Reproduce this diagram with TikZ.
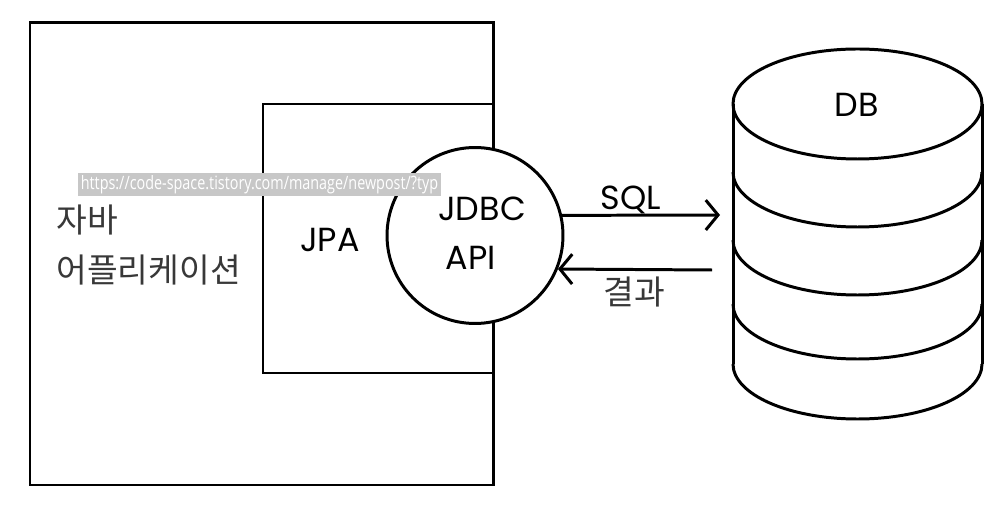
\documentclass[tikz,border=0pt]{standalone}
\usepackage{fontspec}
\setmainfont{Poppins}
\newfontfamily\krfont{Noto Sans CJK KR}
\newfontfamily\urlfont{Open Sans}
\usetikzlibrary{arrows.meta, positioning}

\begin{document}
\begin{tikzpicture}[x=0.02cm, y=0.02cm, line width=1.7pt,
    >={Straight Barb[length=7pt, width=17pt]},
    kor/.style={font=\krfont\fontsize{19}{23}\selectfont, text=black!78, inner sep=0pt},
    eng/.style={font=\fontsize{19}{23}\selectfont, inner sep=0pt}]
    \useasboundingbox (0,0) rectangle (1006,-516);

    % 자바 어플리케이션
    \draw (30,-23) rectangle (493,-485);
    \node[kor, anchor=west] (java) at (55,-220) {자바};
    \node[kor, anchor=west] (app) at (55,-270) {어플리케이션};

    % JPA
    \draw (263,-104) rectangle (493,-373);
    \node[eng] (jpa) at (330,-240) {JPA};

    % JDBC API
    \node[circle, draw, fill=white, minimum size=3.52cm, inner sep=0pt] (jdbc) at (475,-235.5) {};
    \node[eng] (jdbctxt) at (482,-209) {JDBC};
    \node[eng] (apitxt) at (471,-258) {API};

    % 주소 표시
    \node[fill=black!22, text=white, inner sep=0pt, minimum width=7.26cm, minimum height=0.46cm] (url) at (259.5,-184.5)
        {\resizebox{7.15cm}{0.28cm}{\urlfont https://code-space.tistory.com/manage/newpost/?typ}};

    % DB
    \foreach \y in {172, 240, 304, 364} {
        \draw (733,-\y) arc[start angle=180, end angle=360, x radius=124.5, y radius=55];
    }
    \draw (733,-104) -- (733,-364) (982,-104) -- (982,-364);
    \draw (857.5,-104) ellipse[x radius=124.5, y radius=55];
    \node[eng] (db) at (857,-105) {DB};

    % SQL, 결과
    \coordinate (sqlend) at (720,-215);
    \coordinate (resstart) at (712,-270);
    \draw[->] (jdbc.13) -- (sqlend);
    \draw[->] (resstart) -- (jdbc.-22);
    \node[eng] (sql) at (631,-200) {SQL};
    \node[kor] (res) at (634,-292) {결과};
\end{tikzpicture}
\end{document}
